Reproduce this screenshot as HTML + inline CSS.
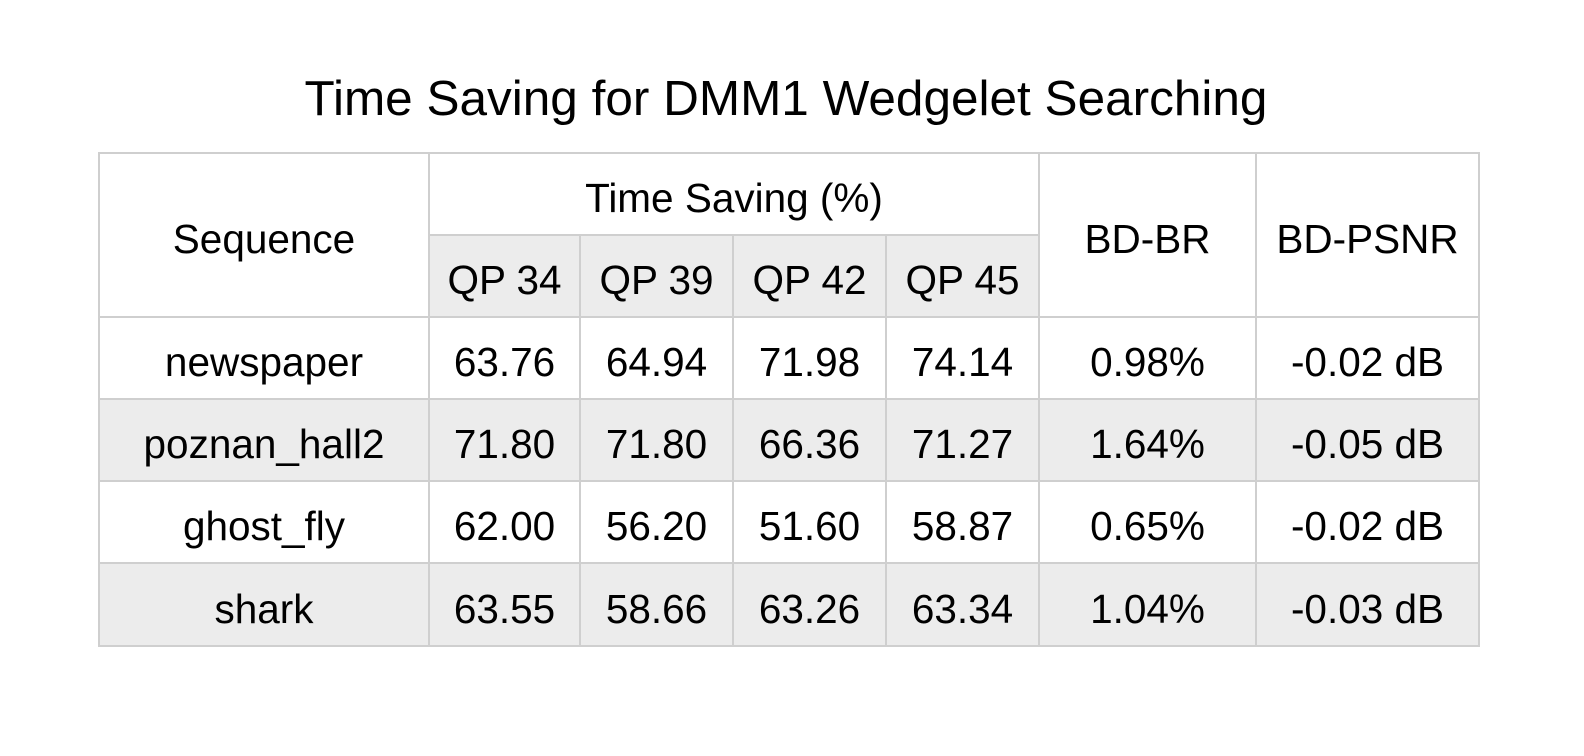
<!DOCTYPE html>
<html><head><meta charset="utf-8"><style>
body{margin:0;width:1584px;height:756px;background:#fff;font-family:"Liberation Sans",sans-serif;position:relative;overflow:hidden}
.t{position:absolute;left:-6px;width:1584px;top:73px;text-align:center;font-size:49.5px;line-height:52px;color:#000}
.c{position:absolute;display:flex;align-items:center;justify-content:center;font-size:40.5px;color:#000;box-sizing:border-box;padding-top:9px}
.g{background:#ececec}
.h{position:absolute;background:#cfcfcf;height:2px}
.v{position:absolute;background:#cfcfcf;width:2px}
</style></head><body>
<div class="t">Time Saving for DMM1 Wedgelet Searching</div>
<div id="tbl"></div>
<script>
const cols=[99,429,580,733,886,1039,1256,1479];
const rows=[153,235,317,399,481,563,646];
const sequences=["newspaper","poznan_hall2","ghost_fly","shark"];
const qpHeaders=["QP 34","QP 39","QP 42","QP 45"];
const timeSaving=[["63.76","64.94","71.98","74.14"],["71.80","71.80","66.36","71.27"],["62.00","56.20","51.60","58.87"],["63.55","58.66","63.26","63.34"]];
const bdbr=["0.98%","1.64%","0.65%","1.04%"];
const bdpsnr=["-0.02 dB","-0.05 dB","-0.02 dB","-0.03 dB"];
const T=document.getElementById('tbl');
function cell(x0,x1,y0,y1,txt,gray,name){
  const d=document.createElement('div');
  d.className='c'+(gray?' g':'');
  d.style.left=x0+'px';d.style.width=(x1-x0)+'px';d.style.top=y0+'px';d.style.height=(y1-y0)+'px';
  d.textContent=txt;
  
  
  T.appendChild(d);
}
cell(cols[0],cols[1],rows[0],rows[2],"Sequence",false,'sequence-header');
cell(cols[1],cols[5],rows[0],rows[1],"Time Saving (%)",false,'time-saving-header');
qpHeaders.forEach((q,i)=>cell(cols[1+i],cols[2+i],rows[1],rows[2],q,true,'qp-header'));
cell(cols[5],cols[6],rows[0],rows[2],"BD-BR",false,'bd-br-header');
cell(cols[6],cols[7],rows[0],rows[2],"BD-PSNR",false,'bd-psnr-header');
sequences.forEach((s,r)=>{
  const g=r%2==1,y0=rows[2+r],y1=rows[3+r];
  cell(cols[0],cols[1],y0,y1,s,g,'sequence-name');
  timeSaving[r].forEach((v,i)=>cell(cols[1+i],cols[2+i],y0,y1,v,g,'time-saving-value'));
  cell(cols[5],cols[6],y0,y1,bdbr[r],g,'bd-br-value');
  cell(cols[6],cols[7],y0,y1,bdpsnr[r],g,'bd-psnr-value');
});
function line(cls,x,y,len){
  const d=document.createElement('div');d.className=cls;
  d.style.left=(x-1)+'px';d.style.top=(y-1)+'px';
  if(cls=='h')d.style.width=len+'px';else d.style.height=len+'px';
  
  
  T.appendChild(d);
}
rows.forEach((y,i)=>{ if(i==1) line('h',cols[1],y,cols[5]-cols[1]+1); else line('h',cols[0],y,cols[7]-cols[0]+2); });
cols.forEach((x,i)=>{ const top=(i>=2&&i<=4)?rows[1]:rows[0]; line('v',x,top,rows[6]-top+2); });
</script>
</body></html>
